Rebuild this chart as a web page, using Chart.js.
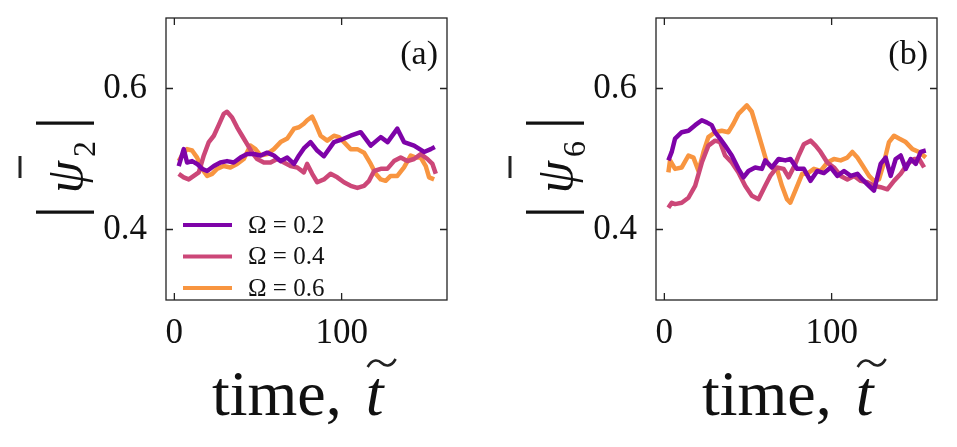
<!DOCTYPE html>
<html>
<head>
<meta charset="utf-8">
<script src="https://cdn.jsdelivr.net/npm/chart.js@4"></script>
<style>
  body { margin: 0; background: #fff; }
  .panel { position: absolute; top: 0; height: 447px; }
  #wrapA { left: 0; width: 478px; }
  #wrapB { left: 478px; width: 479px; }
</style>
</head>
<body>
<div class="panel" id="wrapA"><canvas id="panelA" width="478" height="447"></canvas></div>
<div class="panel" id="wrapB"><canvas id="panelB" width="479" height="447"></canvas></div>
<script>
// tick positions
const xTicks = [0, 100];
const yTicks = [0.4, 0.6];

const seriesLabels = ["\u03A9 = 0.2", "\u03A9 = 0.4", "\u03A9 = 0.6"];
const seriesColors = ["#7e03a8", "#cc4778", "#f89540"];

// panel (a): |psi_2|
const aT02 = [2.6,5.6,7.6,10.6,13.6,16.6,19.6,23.6,27.5,31.5,35.5,39.5,43.5,47.5,51.5,55.5,59.5,63.5,67.5,71.5,74.5,77.4,81.4,85.4,89.4,95.4,100.4,105.4,111.4,117.4,123.4,127.5,133.3,137.3,143.3,149.3,153.3,155.7];
const aV02 = [0.49,0.514,0.495,0.497,0.493,0.486,0.483,0.49,0.495,0.497,0.495,0.502,0.507,0.507,0.505,0.509,0.505,0.497,0.502,0.493,0.505,0.515,0.524,0.512,0.504,0.524,0.528,0.533,0.538,0.519,0.531,0.524,0.543,0.524,0.519,0.51,0.514,0.517];
const aT04 = [2.6,5.6,8.6,11.6,14.6,17.6,20.6,23.6,26.5,29.5,31.5,34.5,37.5,40.5,43.5,46.5,49.5,53.5,57.5,61.5,65.5,69.5,73.5,77.4,79.4,82.4,85.4,89.4,93.4,97.4,101.4,105.4,109.4,113.4,116.4,119.4,123.4,127.3,131.3,135.3,139.3,143.3,147.3,151.3,154.3,156.3];
const aV04 = [0.479,0.474,0.471,0.476,0.481,0.505,0.524,0.533,0.548,0.564,0.567,0.559,0.545,0.533,0.521,0.509,0.5,0.495,0.495,0.5,0.495,0.49,0.488,0.481,0.493,0.479,0.467,0.471,0.479,0.474,0.467,0.462,0.459,0.462,0.469,0.483,0.486,0.486,0.497,0.502,0.497,0.5,0.507,0.5,0.493,0.479];
const aT06 = [2.6,4.6,7.6,10.6,13.6,16.6,19.6,22.6,25.5,29.5,33.5,37.5,41.5,45.5,48.5,51.5,55.5,59.5,63.5,67.5,71.5,74.5,77.4,79.4,82.4,84.4,87.4,91.4,95.4,98.4,101.4,105.4,109.4,113.4,117.4,120.4,123.4,126.3,129.3,133.3,137.3,141.3,144.3,147.3,150.3,152.3,155.3];
const aV06 = [0.497,0.505,0.514,0.512,0.502,0.486,0.476,0.479,0.486,0.49,0.488,0.493,0.5,0.519,0.514,0.505,0.507,0.514,0.524,0.529,0.543,0.545,0.55,0.555,0.56,0.55,0.533,0.526,0.533,0.531,0.524,0.514,0.514,0.509,0.493,0.479,0.471,0.469,0.476,0.476,0.488,0.505,0.502,0.502,0.49,0.474,0.471];

// panel (b): |psi_6|
const bT02 = [2.4,4.4,6.4,10.4,14.4,18.4,22.4,25.3,28.3,30.3,33.3,36.3,40.3,44.3,47.3,50.3,54.3,58.3,60.3,64.3,68.3,72.3,75.4,79.4,83.4,87.4,91.4,95.4,99.4,103.4,107.4,111.4,115.4,118.4,121.4,125.3,129.3,132.3,135.3,138.3,141.3,144.3,147.3,150.3,153.3,156.3];
const bV02 = [0.498,0.51,0.529,0.538,0.54,0.548,0.555,0.552,0.548,0.538,0.529,0.519,0.505,0.486,0.474,0.483,0.488,0.486,0.498,0.488,0.5,0.498,0.5,0.486,0.486,0.469,0.483,0.48,0.488,0.476,0.483,0.476,0.479,0.471,0.464,0.455,0.493,0.502,0.476,0.5,0.505,0.486,0.5,0.493,0.51,0.512];
const bT04 = [2.4,4.4,6.4,10.4,14.4,18.4,22.4,26.3,30.3,33.3,36.3,40.3,44.3,48.3,52.3,56.3,60.3,63.3,67.3,71.3,74.3,78.3,80.3,83.4,87.4,90.4,93.4,97.4,101.4,105.4,109.4,113.4,117.4,121.4,125.3,129.3,133.3,137.3,141.3,145.3,149.3,152.3,155.3];
const bV04 = [0.431,0.438,0.436,0.438,0.445,0.462,0.495,0.519,0.526,0.524,0.505,0.495,0.481,0.462,0.448,0.443,0.462,0.476,0.488,0.486,0.474,0.493,0.505,0.521,0.526,0.519,0.51,0.495,0.488,0.476,0.471,0.476,0.469,0.467,0.462,0.46,0.457,0.469,0.479,0.493,0.5,0.5,0.488];
const bT06 = [2.4,3.4,6.4,10.4,14.4,17.4,20.4,23.4,26.3,30.3,34.3,38.3,41.3,44.3,49.3,52.3,55.3,58.3,61.3,64.3,67.3,70.3,73.3,75.3,78.3,82.4,85.4,89.4,93.4,97.4,101.4,105.4,109.4,112.4,115.4,118.4,122.4,125.3,128.3,131.3,134.3,137.3,140.3,144.3,148.3,152.3,156.3];
const bV06 = [0.481,0.498,0.486,0.488,0.505,0.502,0.483,0.51,0.531,0.538,0.54,0.538,0.55,0.564,0.576,0.567,0.543,0.519,0.495,0.488,0.486,0.462,0.443,0.438,0.455,0.479,0.479,0.486,0.483,0.495,0.5,0.498,0.502,0.51,0.502,0.491,0.476,0.469,0.471,0.495,0.524,0.533,0.529,0.524,0.514,0.51,0.502];

const serif = "'Liberation Serif', 'DejaVu Serif', serif";
const ink = "#111";

// frame, inward ticks, panel tag, axis titles and legend
const panelDecor = {
    id: "panelDecor",
    afterDatasetsDraw(chart, args, opts) {
        const { ctx, chartArea: a, scales: { x, y } } = chart;
        ctx.save();

        // frame
        ctx.strokeStyle = "#222";
        ctx.lineWidth = 1.3;
        ctx.strokeRect(a.left, a.top, a.right - a.left, a.bottom - a.top);

        // ticks pointing inward on all four sides
        ctx.beginPath();
        xTicks.forEach(v => {
            const px = x.getPixelForValue(v);
            ctx.moveTo(px, a.bottom); ctx.lineTo(px, a.bottom - 7);
            ctx.moveTo(px, a.top); ctx.lineTo(px, a.top + 7);
        });
        yTicks.forEach(v => {
            const py = y.getPixelForValue(v);
            ctx.moveTo(a.left, py); ctx.lineTo(a.left + 7, py);
            ctx.moveTo(a.right, py); ctx.lineTo(a.right - 7, py);
        });
        ctx.stroke();

        // panel tag
        ctx.fillStyle = ink;
        ctx.font = "34px " + serif;
        ctx.textAlign = "right";
        ctx.textBaseline = "middle";
        ctx.fillText(opts.tag, a.right - 9, a.top + 37);

        // x title: time, t~
        ctx.textAlign = "left";
        ctx.textBaseline = "alphabetic";
        const baseY = a.bottom + 115;
        ctx.font = "64px " + serif;
        const w1 = ctx.measureText("time,").width;
        ctx.font = "italic 64px " + serif;
        const w2 = ctx.measureText("t").width;
        const gap = 24;
        const x0 = a.left + 46;
        ctx.font = "64px " + serif;
        ctx.fillText("time,", x0, baseY);
        ctx.font = "italic 64px " + serif;
        const tx = x0 + w1 + gap;
        ctx.fillText("t", tx, baseY);
        const cx = tx + w2 / 2 + 7, cy = baseY - 52;
        ctx.lineWidth = 2.6;
        ctx.beginPath();
        ctx.moveTo(cx - 14, cy + 4);
        ctx.bezierCurveTo(cx - 9, cy - 5, cx - 3, cy - 3, cx, cy);
        ctx.bezierCurveTo(cx + 3, cy + 3, cx + 9, cy + 5, cx + 14, cy - 4);
        ctx.stroke();

        // y title: |psi-bar_n|, rotated
        ctx.save();
        ctx.translate(a.left - 106, a.top + 149);
        ctx.rotate(-Math.PI / 2);
        ctx.textAlign = "center";
        ctx.font = "64px " + serif;
        ctx.fillText("|", -45, 20);
        ctx.fillText("|", 44, 20);
        ctx.font = "italic 52px " + serif;
        ctx.fillText("\u03C8", -10, 22);
        ctx.font = "32px " + serif;
        ctx.fillText(opts.sub, 18, 35);
        ctx.lineWidth = 3;
        ctx.beginPath();
        ctx.moveTo(-11, -40); ctx.lineTo(11, -40);
        ctx.stroke();
        ctx.restore();

        // legend in lower left of the plot
        if (opts.legend) {
            ctx.textAlign = "left";
            ctx.textBaseline = "middle";
            ctx.font = "25px " + serif;
            chart.data.datasets.forEach((ds, i) => {
                const ly = a.bottom - 75 + i * 31.5;
                ctx.strokeStyle = ds.borderColor;
                ctx.lineWidth = 4;
                ctx.beginPath();
                ctx.moveTo(a.left + 17, ly); ctx.lineTo(a.left + 66, ly);
                ctx.stroke();
                ctx.fillStyle = ink;
                ctx.fillText(ds.label, a.left + 82, ly + 1);
            });
        }
        ctx.restore();
    }
};

function makeSeries(times, values, i) {
    return {
        label: seriesLabels[i],
        data: times.map((t, k) => ({ x: t, y: values[k] })),
        borderColor: seriesColors[i],
        borderWidth: 4.5,
        pointRadius: 0,
        fill: false,
        tension: 0,
        borderJoinStyle: "round"
    };
}

function makeChart(id, series, leftW, rightPad, tag, sub, legend) {
    const ctx = document.getElementById(id).getContext("2d");
    return new Chart(ctx, {
        type: "line",
        data: { datasets: series },
        options: {
            responsive: false,
            animation: false,
            layout: { autoPadding: false, padding: { top: 18, right: rightPad, bottom: 0, left: 0 } },
            scales: {
                x: {
                    type: "linear",
                    min: -5,
                    max: 163,
                    afterBuildTicks: s => { s.ticks = xTicks.map(v => ({ value: v })); },
                    afterFit: s => {
                        s.height = 147;
                        s.paddingLeft = 0; s.paddingRight = 0;
                    },
                    grid: { display: false },
                    border: { display: false },
                    ticks: { color: ink, font: { family: serif, size: 35 }, padding: 5, maxRotation: 0 }
                },
                y: {
                    min: 0.3,
                    max: 0.7,
                    afterBuildTicks: s => { s.ticks = yTicks.map(v => ({ value: v })); },
                    afterFit: s => {
                        s.width = leftW;
                        s.paddingTop = 0; s.paddingBottom = 0;
                    },
                    grid: { display: false },
                    border: { display: false },
                    ticks: {
                        color: ink,
                        font: { family: serif, size: 35 },
                        padding: 11,
                        callback: v => v.toFixed(1)
                    }
                }
            },
            plugins: {
                legend: { display: false },
                tooltip: { enabled: false },
                panelDecor: { tag: tag, sub: sub, legend: legend }
            }
        },
        plugins: [panelDecor]
    });
}

makeChart("panelA", [
    makeSeries(aT02, aV02, 0),
    makeSeries(aT04, aV04, 1),
    makeSeries(aT06, aV06, 2)
], 166, 31, "(a)", "2", true);

makeChart("panelB", [
    makeSeries(bT02, bV02, 0),
    makeSeries(bT04, bV04, 1),
    makeSeries(bT06, bV06, 2)
], 178, 20, "(b)", "6", false);
</script>
</body>
</html>
